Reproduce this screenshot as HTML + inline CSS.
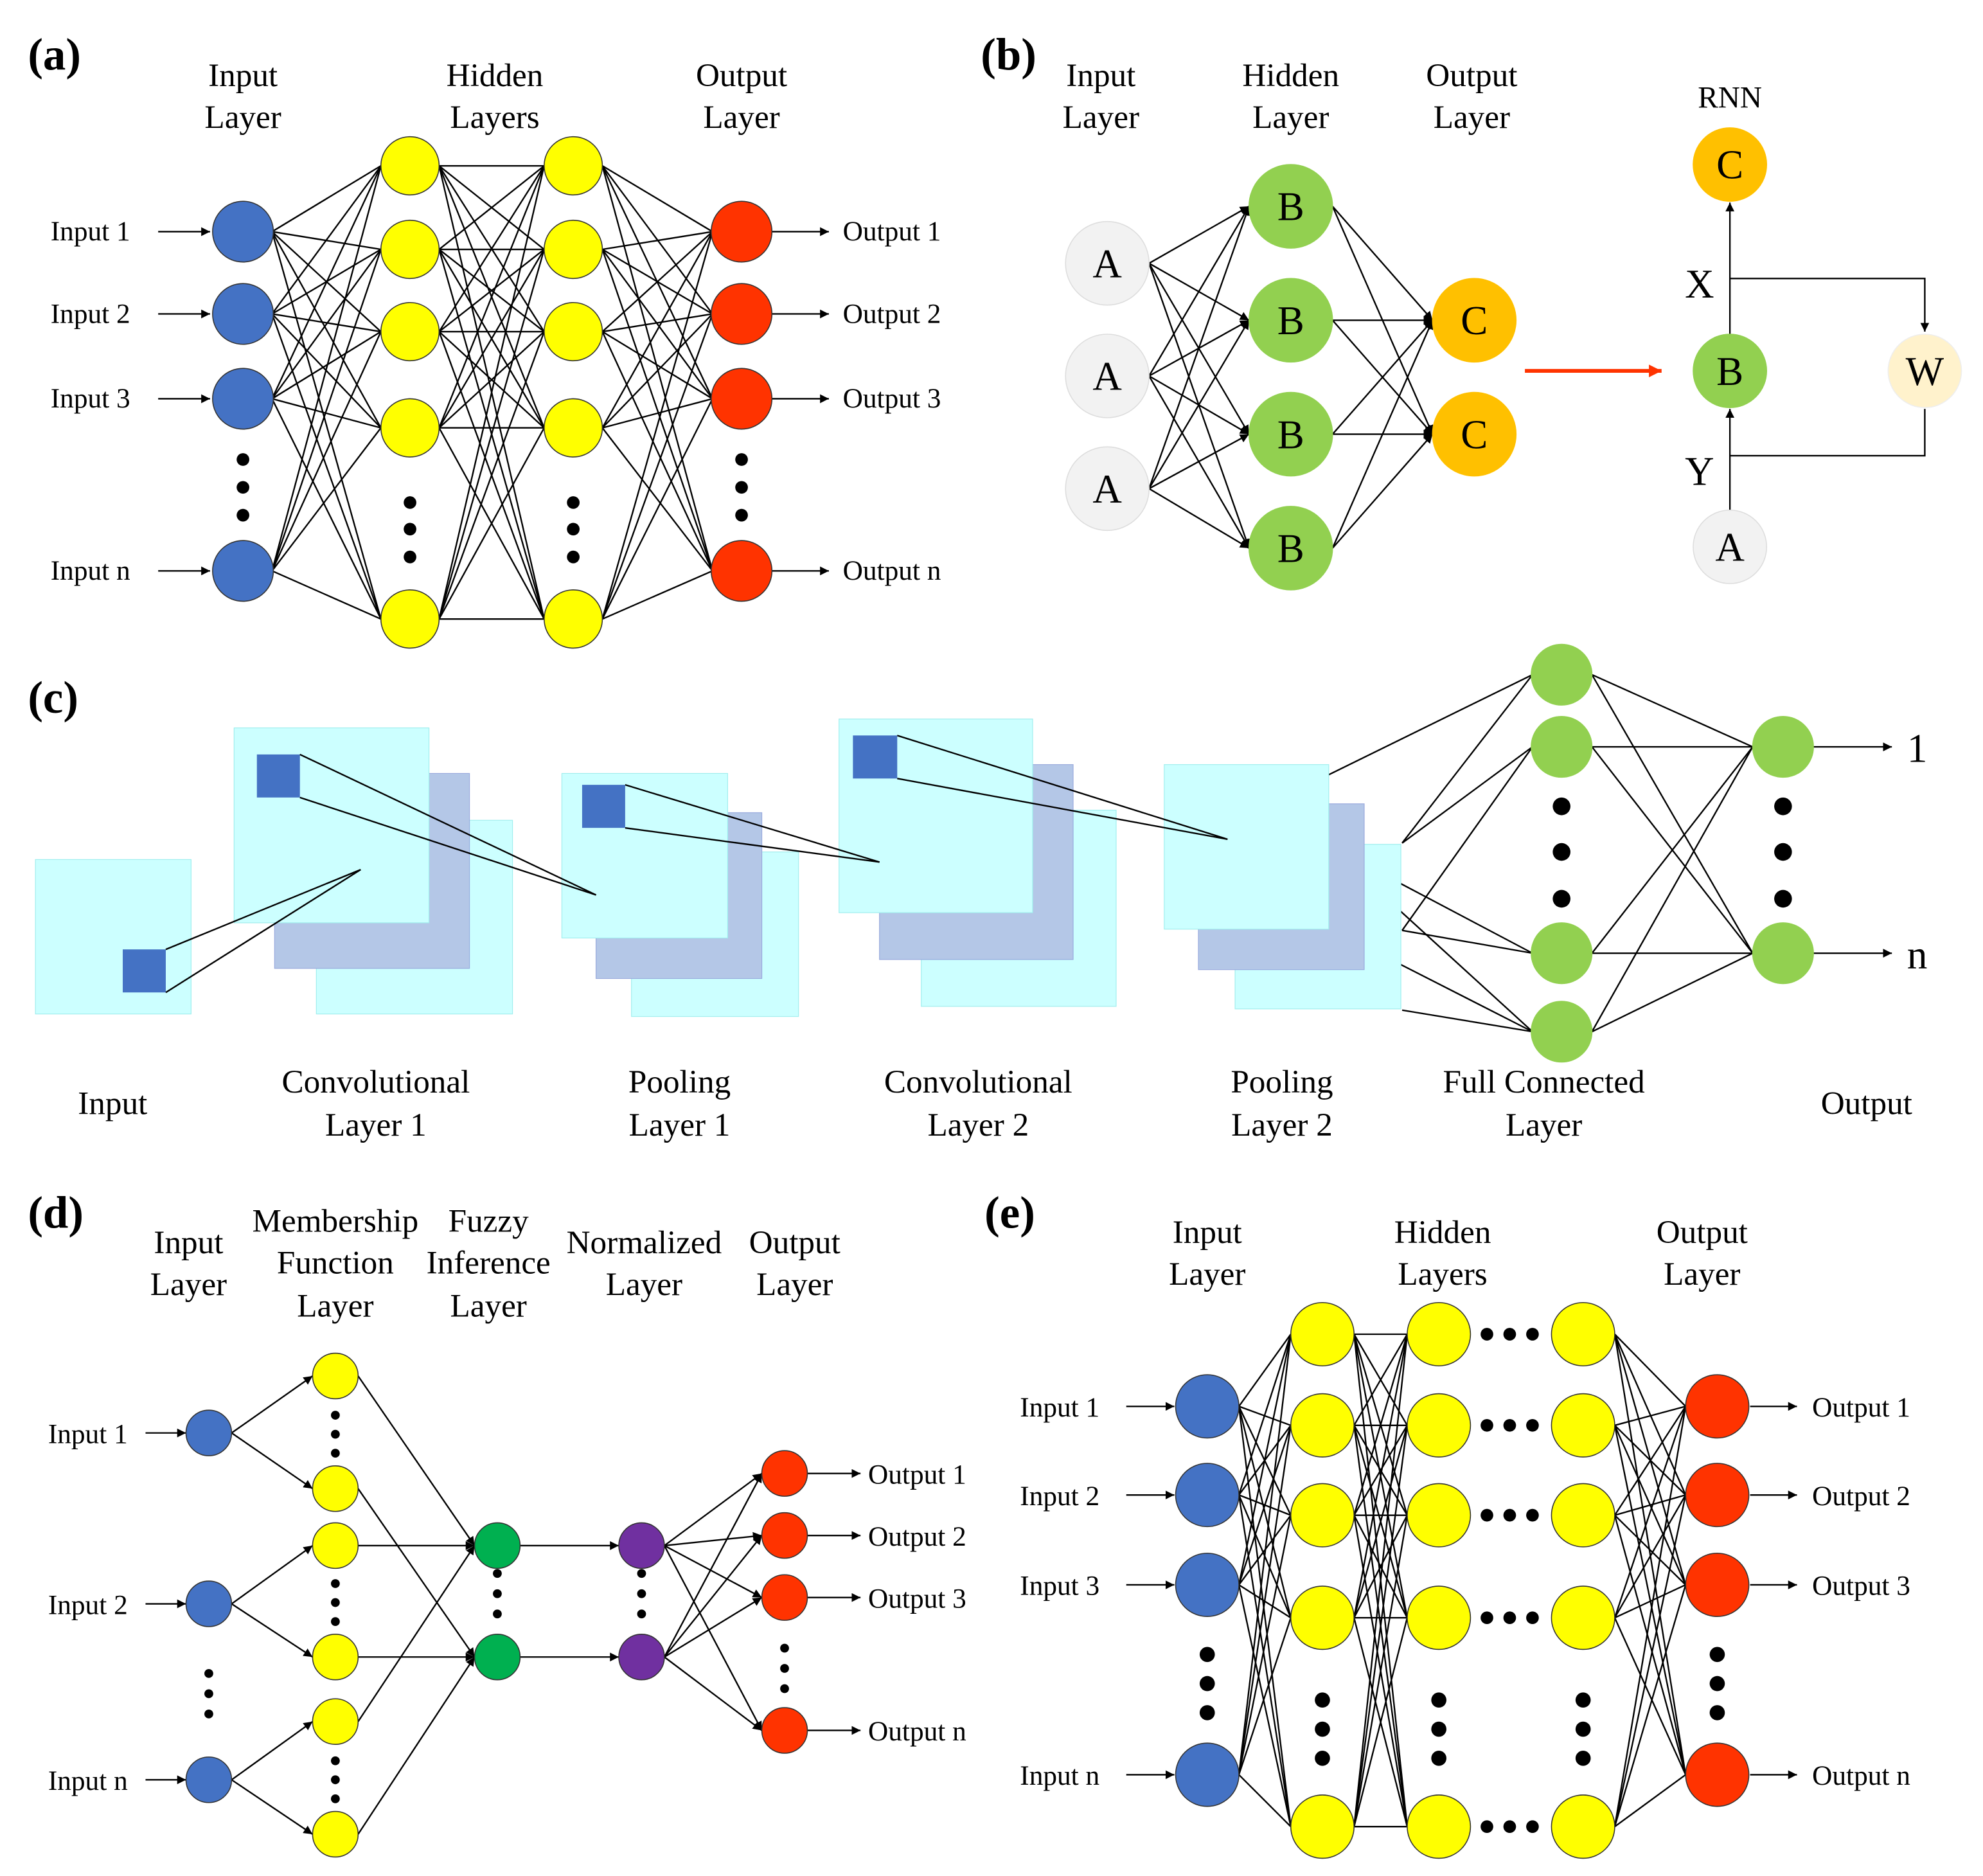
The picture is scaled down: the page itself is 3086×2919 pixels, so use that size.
<!DOCTYPE html>
<html><head><meta charset="utf-8"><style>
html,body{margin:0;padding:0;background:#fff}
svg{display:block}
text{font-family:"Liberation Serif",serif;fill:#000}
</style></head><body>
<svg id="s" xmlns="http://www.w3.org/2000/svg" width="3086" height="2919" viewBox="0 0 1567 1482" preserveAspectRatio="none">
<defs><marker id="ar" viewBox="0 0 10 10" refX="10" refY="5" markerWidth="7" markerHeight="7" markerUnits="userSpaceOnUse" orient="auto"><path d="M0,0L10,5L0,10z" fill="#000"/></marker>
<marker id="arr" viewBox="0 0 10 10" refX="10" refY="5" markerWidth="10" markerHeight="10" markerUnits="userSpaceOnUse" orient="auto"><path d="M0,0L10,5L0,10z" fill="#ff3300"/></marker></defs>
<g id="L" stroke="#000" stroke-width="1.2" fill="none"></g>
<g id="N"></g>
<g id="T"></g>
</svg>
<script>
const NS="http://www.w3.org/2000/svg";
const L=document.getElementById('L'),N=document.getElementById('N'),T=document.getElementById('T');
function el(p,tag,a){const e=document.createElementNS(NS,tag);for(const k in a)e.setAttribute(k,a[k]);p.appendChild(e);return e;}
function line(x1,y1,x2,y2,arrow){const a={x1,y1,x2,y2};if(arrow)a['marker-end']='url(#ar)';el(L,'line',a);}
function circ(x,y,r,f,s){el(N,'circle',{cx:x,cy:y,r:r,fill:f,stroke:s||'#333','stroke-width':0.8});}
function txt(x,y,s,fs,anchor,bold){const t=el(T,'text',{x,y,'font-size':fs,'text-anchor':anchor||'middle'});if(bold)t.setAttribute('font-weight','bold');t.textContent=s;}
function dot(x,y,r){el(N,'circle',{cx:x,cy:y,r:r||5,fill:'#000'});}
function full(A,ax,B,bx,ra,rb){A.forEach(a=>B.forEach(b=>line(ax+ra,a,bx-rb,b)));}
const BL='#4472c4',YE='#ffff00',RE='#ff3300',GR='#92d050',OR='#ffc000',GY='#f2f2f2';
// ---------- (a)
txt(22,55,'(a)',36,'start',1);
[['Input','Layer',192],['Hidden','Layers',391],['Output','Layer',586]].forEach(h=>{txt(h[2],68,h[0],26);txt(h[2],101,h[1],26);});
const ai=[183,248,315,451],ah=[131,197,262,338,489];
full(ai,192,ah,324,23,23);full(ah,324,ah,453,23,23);full(ah,453,ai,586,23,23);
ai.forEach((y,i)=>{circ(192,y,24,BL);circ(586,y,24,RE);line(125,y,166,y,1);line(610,y,655,y,1);
txt(40,y+7,'Input '+['1','2','3','n'][i],22,'start');txt(666,y+7,'Output '+['1','2','3','n'][i],22,'start');});
ah.forEach(y=>{circ(324,y,23,YE);circ(453,y,23,YE);});
[363,385,407].forEach(y=>{dot(192,y);dot(586,y);});[397,418,440].forEach(y=>{dot(324,y);dot(453,y);});
// ---------- (b)
txt(775,55,'(b)',36,'start',1);
[['Input','Layer',870],['Hidden','Layer',1020],['Output','Layer',1163]].forEach(h=>{txt(h[2],68,h[0],26);txt(h[2],101,h[1],26);});
const bA=[208,297,386],bB=[163,253,343,433],bC=[253,343];
bA.forEach(a=>bB.forEach(b=>line(908,a,987,b,1)));bB.forEach(b=>bC.forEach(c=>line(1053,b,1132,c,1)));
bA.forEach(y=>{circ(875,y,33,GY,'#ddd');txt(875,y+11,'A',32);});
bB.forEach(y=>{circ(1020,y,33,GR,'#92d050');txt(1020,y+11,'B',32);});
bC.forEach(y=>{circ(1165,y,33,OR,'#ffc000');txt(1165,y+11,'C',32);});
el(L,'line',{x1:1205,y1:293,x2:1313,y2:293,stroke:'#ff3300','stroke-width':3,'marker-end':'url(#arr)'});
txt(1367,85,'RNN',24);
line(1367,264,1367,160,1);el(L,'polyline',{points:'1367,220 1521,220 1521,262','marker-end':'url(#ar)'});
el(L,'polyline',{points:'1521,323 1521,360 1367,360'});line(1367,403,1367,323,1);
circ(1367,130,29,OR,'#ffc000');txt(1367,141,'C',32);
circ(1367,293,29,GR,'#92d050');txt(1367,304,'B',32);
circ(1521,293,29,'#fff2cc','#eee');txt(1521,304,'W',32);
circ(1367,432,29,GY,'#ddd');txt(1367,443,'A',32);
txt(1343,235,'X',32);txt(1343,383,'Y',32);
// ---------- (c)
txt(22,563,'(c)',36,'start',1);
function rect(x1,y1,x2,y2,f,s){el(N,'rect',{x:x1,y:y1,width:x2-x1,height:y2-y1,fill:f,stroke:s||'none','stroke-width':0.6});}
const CY='#ccffff',PU='#b4c7e7';
rect(28,679,151,801,CY,'#a0eeee');
[[185,575,339,729,217,611,371,765,250,648,405,801],[444,611,575,741,471,642,602,773,499,673,631,803],[663,568,816,721,695,604,848,758,728,640,882,795],[920,604,1050,734,947,635,1078,766,976,667,1107,797]].forEach(r=>{
rect(r[8],r[9],r[10],r[11],CY,'#a0eeee');rect(r[4],r[5],r[6],r[7],PU,'#99aadd');rect(r[0],r[1],r[2],r[3],CY,'#a0eeee');});
rect(97,750,131,784,BL);rect(203,596,237,630,BL);rect(460,620,494,654,BL);rect(674,581,709,615,BL);
function L2(x1,y1,x2,y2){el(N,'line',{x1,y1,x2,y2,stroke:'#000','stroke-width':1.2});}
L2(131,750,285,687);L2(131,784,285,687);L2(237,596,471,707);L2(237,630,471,707);
L2(494,620,695,681);L2(494,654,695,681);L2(709,581,970,663);L2(709,615,970,663);
const fc=[533,590,753,815],fo=[590,753];
[[1050,612,533],[1108,666,533],[1108,666,590],[1050,668,753],[1050,668,815],[1108,735,753],[1050,733,815],[1108,798,815],[1108,735,590]].forEach(a=>line(a[0],a[1],1211,a[2]));
full(fc,1234,fo,1409,24,24);
fo.forEach(y=>line(1433,y,1495,y,1));
fc.forEach(y=>circ(1234,y,24,GR,'#92d050'));fo.forEach(y=>circ(1409,y,24,GR,'#92d050'));
[637,673,710].forEach(y=>{dot(1234,y,7);dot(1409,y,7);});
txt(1515,602,'1',32,'middle');txt(1515,765,'n',32,'middle');
txt(89,880,'Input',26);txt(1475,880,'Output',26);
[['Convolutional','Layer 1',297],['Pooling','Layer 1',537],['Convolutional','Layer 2',773],['Pooling','Layer 2',1013],['Full Connected','Layer',1220]].forEach(h=>{txt(h[2],863,h[0],26);txt(h[2],897,h[1],26);});
// ---------- (d)
txt(22,970,'(d)',36,'start',1);
txt(149,990,'Input',26);txt(149,1023,'Layer',26);
txt(265,973,'Membership',26);txt(265,1006,'Function',26);txt(265,1040,'Layer',26);
txt(386,973,'Fuzzy',26);txt(386,1006,'Inference',26);txt(386,1040,'Layer',26);
txt(509,990,'Normalized',26);txt(509,1023,'Layer',26);txt(628,990,'Output',26);txt(628,1023,'Layer',26);
const di=[1132,1267,1406],dy=[1087,1176,1221,1309,1360,1449],dg=[1221,1309],dr=[1164,1213,1262,1367];
di.forEach((y,i)=>{line(183,y,247,dy[2*i],1);line(183,y,247,dy[2*i+1],1);line(115,y,147,y,1);});
[[0,0],[1,1],[2,0],[3,1],[4,0],[5,1]].forEach(p=>line(283,dy[p[0]],375,dg[p[1]],1));
dg.forEach(y=>line(411,y,489,y,1));
dg.forEach(g=>dr.forEach(r=>line(525,g,602,r,1)));
dr.forEach(y=>line(638,y,680,y,1));
di.forEach((y,i)=>{circ(165,y,18,BL);txt(38,y+8,'Input '+['1','2','n'][i],22,'start');});
dy.forEach(y=>circ(265,y,18,YE));dg.forEach(y=>circ(393,y,18,'#00b050'));dg.forEach(y=>circ(507,y,18,'#7030a0'));
dr.forEach((y,i)=>{circ(620,y,18,RE);txt(686,y+8,'Output '+['1','2','3','n'][i],22,'start');});
[1118,1133,1148].forEach(y=>dot(265,y,3.5));[1251,1266,1281].forEach(y=>dot(265,y,3.5));[1391,1406,1421].forEach(y=>dot(265,y,3.5));
[1243,1259,1275].forEach(y=>{dot(393,y,3.5);dot(507,y,3.5);});[1322,1338,1354].forEach(y=>dot(165,y,3.5));[1302,1318,1334].forEach(y=>dot(620,y,3.5));
// ---------- (e)
txt(778,970,'(e)',36,'start',1);
[['Input','Layer',954],['Hidden','Layers',1140],['Output','Layer',1345]].forEach(h=>{txt(h[2],982,h[0],26);txt(h[2],1015,h[1],26);});
const ei=[1111,1181,1252,1402],eh=[1054,1126,1197,1278,1443];
full(ei,954,eh,1045,25,25);full(eh,1045,eh,1137,25,25);full(eh,1251,ei,1357,25,25);
ei.forEach((y,i)=>{circ(954,y,25,BL);circ(1357,y,25,RE);line(890,y,928,y,1);line(1383,y,1420,y,1);
txt(806,y+8,'Input '+['1','2','3','n'][i],22,'start');txt(1432,y+8,'Output '+['1','2','3','n'][i],22,'start');});
eh.forEach(y=>{circ(1045,y,25,YE);circ(1137,y,25,YE);circ(1251,y,25,YE);[1175,1193,1211].forEach(x=>dot(x,y,5));});
[1307,1330,1353].forEach(y=>{dot(954,y,6);dot(1357,y,6);});
[1343,1366,1389].forEach(y=>{dot(1045,y,6);dot(1137,y,6);dot(1251,y,6);});
</script>
</body></html>
